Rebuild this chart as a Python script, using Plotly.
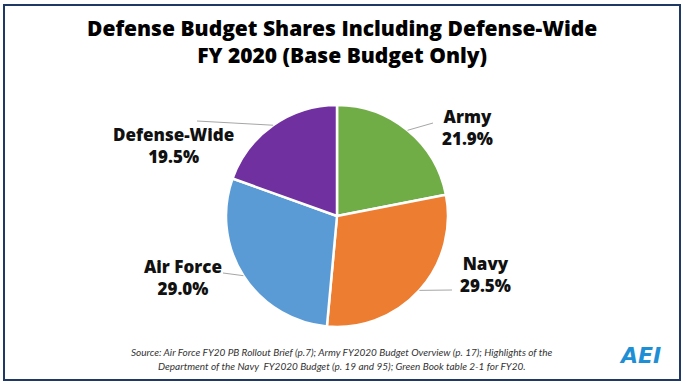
import math
import plotly.graph_objects as go

W, H = 685, 385

categories = ["Army", "Navy", "Air Force", "Defense-Wide"]
shares = [21.9, 29.5, 29.0, 19.5]
label_text = ["21.9%", "29.5%", "29.0%", "19.5%"]
colors = ["#70ad47", "#ed7d31", "#5b9bd5", "#7030a0"]

title_lines = ["Defense Budget Shares Including Defense-Wide", "FY 2020 (Base Budget Only)"]
source_lines = [
    "Source: Air Force FY20 PB Rollout Brief (p.7); Army FY2020 Budget Overview (p. 17); Highlights of the",
    "Department of the Navy  FY2020 Budget (p. 19 and 95); Green Book table 2-1 for FY20.",
]

# pie geometry (pixels)
cx, cy, R = 337, 216, 111
# label anchor (pixels) and leader-line end per slice
label_pos = [(467, 127), (486, 274), (183, 277), (174, 145)]
line_end = [(433, 123), (452, 290), (223, 273), (197, 121)]


def px(x):
    return x / W


def py(y):
    return 1 - y / H


fig = go.Figure()
fig.add_trace(go.Pie(
    labels=categories,
    values=shares,
    marker=dict(colors=colors, line=dict(color="white", width=2.5)),
    sort=False,
    direction="clockwise",
    rotation=0,
    textinfo="none",
    hoverinfo="label+percent",
    showlegend=False,
    domain=dict(x=[px(cx - R), px(cx + R)], y=[py(cy + R), py(cy - R)]),
))

shapes = [dict(type="rect", xref="paper", yref="paper",
               x0=px(4), x1=px(680), y0=py(380), y1=py(5),
               line=dict(color="#1f3864", width=2), fillcolor="rgba(0,0,0,0)")]
annotations = []

total = sum(shares)
cum = 0
for i, v in enumerate(shares):
    mid = (cum + v / 2) / total * 2 * math.pi
    cum += v
    sx = cx + R * math.sin(mid)
    sy = cy - R * math.cos(mid)
    ex, ey = line_end[i]
    shapes.append(dict(type="line", xref="paper", yref="paper",
                       x0=px(sx), y0=py(sy), x1=px(ex), y1=py(ey),
                       line=dict(color="#a6a6a6", width=1)))
    lx, ly = label_pos[i]
    annotations.append(dict(
        x=px(lx), y=py(ly), xref="paper", yref="paper", showarrow=False,
        text=f"{categories[i]}<br>{label_text[i]}",
        font=dict(family="Open Sans", size=17, color="#111111", weight=800),
        align="center", xanchor="center", yanchor="middle",
    ))

annotations.append(dict(
    x=px(342), y=py(41), xref="paper", yref="paper", showarrow=False,
    text="<br>".join(title_lines),
    font=dict(family="Open Sans", size=21, color="#000000", weight=800),
    xanchor="center", yanchor="middle", align="center",
))

for t, y in zip(source_lines, [352, 366]):
    annotations.append(dict(
        x=px(342), y=py(y), xref="paper", yref="paper", showarrow=False,
        text=f"<i>{t}</i>", font=dict(family="Lato", size=10, color="#333333"),
        xanchor="center", yanchor="middle",
    ))

annotations.append(dict(
    x=px(640), y=py(355), xref="paper", yref="paper", showarrow=False,
    text="<b><i>AEI</i></b>", font=dict(family="DejaVu Sans", size=22, color="#1e8fd5"),
    xanchor="center", yanchor="middle",
))

fig.update_layout(
    width=W, height=H,
    margin=dict(l=0, r=0, t=0, b=0),
    paper_bgcolor="white", plot_bgcolor="white",
    shapes=shapes, annotations=annotations,
)

fig.write_html("out.html", config={"displayModeBar": False},
               post_script="document.body.style.margin='0';document.body.style.overflow='hidden';")
